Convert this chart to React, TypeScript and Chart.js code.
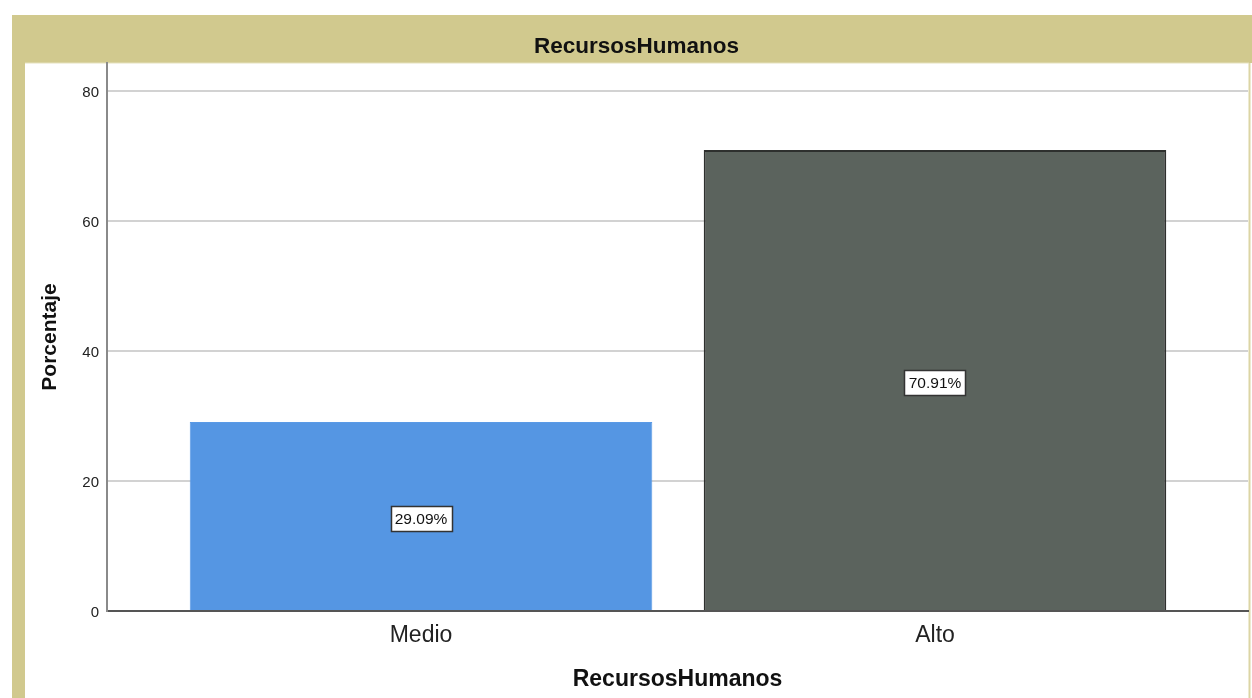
import { useEffect, useRef } from 'react';
import { Chart, registerables } from 'chart.js';

Chart.register(...registerables);

const chartTitle = 'RecursosHumanos';
const xAxisTitle = 'RecursosHumanos';
const yAxisTitle = 'Porcentaje';
const categories = ['Medio', 'Alto'];
const percentages = [29.09, 70.91];
const barColors = ['#5596e3', '#5b635d'];
const barBorderColors = ['#5a9ae6', '#2e302e'];
const yTicks = [0, 20, 40, 60, 80];
const yMax = 84.3;

const FONT = '"Liberation Sans", Arial, Helvetica, sans-serif';
const KHAKI = '#d1c98e';

const framePlugin = {
  id: 'spssFrame',
  beforeDraw(chart: any) {
    const ctx = chart.ctx;
    const W = chart.width;
    const H = chart.height;
    ctx.save();
    ctx.fillStyle = '#ffffff';
    ctx.fillRect(0, 0, W, H);
    ctx.fillStyle = KHAKI;
    ctx.fillRect(12, 15, W - 12, 48);
    ctx.fillRect(12, 15, 13, H - 15);
    ctx.fillStyle = '#dcd5a4';
    ctx.fillRect(1248.5, 63, 2, H - 63);
    ctx.fillStyle = '#e6e1bd';
    ctx.fillRect(25, 62.5, 1224, 1);
    ctx.restore();
  },
};

const labelPlugin = {
  id: 'pctLabels',
  afterDatasetsDraw(chart: any) {
    const ctx = chart.ctx;
    const meta = chart.getDatasetMeta(0);
    ctx.save();
    ctx.font = `15.5px ${FONT}`;
    meta.data.forEach((bar: any, i: number) => {
      const { x, y, base } = bar.getProps(['x', 'y', 'base'], true);
      const cy = (y + base) / 2 + 2.5;
      const text = percentages[i].toFixed(2) + '%';
      const w = Math.round(ctx.measureText(text).width + 8);
      const h = 25;
      const bx = Math.round(x - w / 2) + 0.5;
      const by = Math.round(cy - h / 2) + 0.5;
      ctx.fillStyle = '#ffffff';
      ctx.fillRect(bx, by, w, h);
      ctx.strokeStyle = '#333333';
      ctx.lineWidth = 1.5;
      ctx.strokeRect(bx, by, w, h);
      ctx.fillStyle = '#111111';
      ctx.textAlign = 'center';
      ctx.textBaseline = 'middle';
      ctx.fillText(text, x, by + h / 2 + 1);
    });
    ctx.restore();
  },
};

export default function App() {
  const ref = useRef<HTMLCanvasElement | null>(null);

  useEffect(() => {
    if (!ref.current) return;
    const chart = new Chart(ref.current, {
      type: 'bar',
      data: {
        datasets: [
          {
            label: chartTitle,
            data: percentages.map((v, i) => ({ x: i, y: v })),
            backgroundColor: barColors,
            borderColor: barBorderColors,
            borderWidth: [1, 2],
            barPercentage: 0.9,
            categoryPercentage: 1,
          },
        ],
      },
      options: {
        responsive: false,
        animation: false,
        layout: { padding: { left: 25, right: 4, top: 15, bottom: 0 } },
        plugins: {
          legend: { display: false },
          tooltip: { enabled: false },
          title: {
            display: true,
            text: chartTitle,
            color: '#111111',
            font: { family: FONT, size: 22.5, weight: 'bold' },
            padding: { top: 18.5, bottom: 2.5 },
          },
        },
        scales: {
          x: {
            type: 'linear',
            offset: false,
            min: -0.611,
            max: 1.609,
            afterBuildTicks: (scale: any) => {
              scale.ticks = categories.map((_, i) => ({ value: i }));
            },
            afterFit: (scale: any) => {
              scale.height = 87;
            },
            grid: { display: false, drawTicks: false, offset: false },
            border: { display: true, color: '#555555', width: 2 },
            ticks: {
              color: '#222222',
              padding: 11,
              font: { family: FONT, size: 23 },
              callback: (v: any) => categories[v as number] ?? '',
            },
            title: {
              display: true,
              text: xAxisTitle,
              color: '#111111',
              font: { family: FONT, size: 23, weight: 'bold' },
              padding: { top: 0, bottom: 5 },
            },
          },
          y: {
            min: 0,
            max: yMax,
            afterBuildTicks: (scale: any) => {
              scale.ticks = yTicks.map((v) => ({ value: v }));
            },
            afterFit: (scale: any) => {
              scale.width = 82;
            },
            grid: { color: '#d2d2d2', lineWidth: 2, drawTicks: false },
            border: { display: true, color: '#8a8a8a', width: 2 },
            ticks: {
              color: '#222222',
              padding: 8,
              labelOffset: 2,
              font: { family: FONT, size: 15 },
            },
            title: {
              display: true,
              text: yAxisTitle,
              color: '#111111',
              font: { family: FONT, size: 21, weight: 'bold' },
              padding: { top: 13, bottom: 0 },
            },
          },
        },
      },
      plugins: [framePlugin, labelPlugin],
    } as any);
    return () => chart.destroy();
  }, []);

  return (
    <canvas
      ref={ref}
      width={1252}
      height={698}
      style={{ position: 'absolute', left: 0, top: 0, display: 'block' }}
    />
  );
}
